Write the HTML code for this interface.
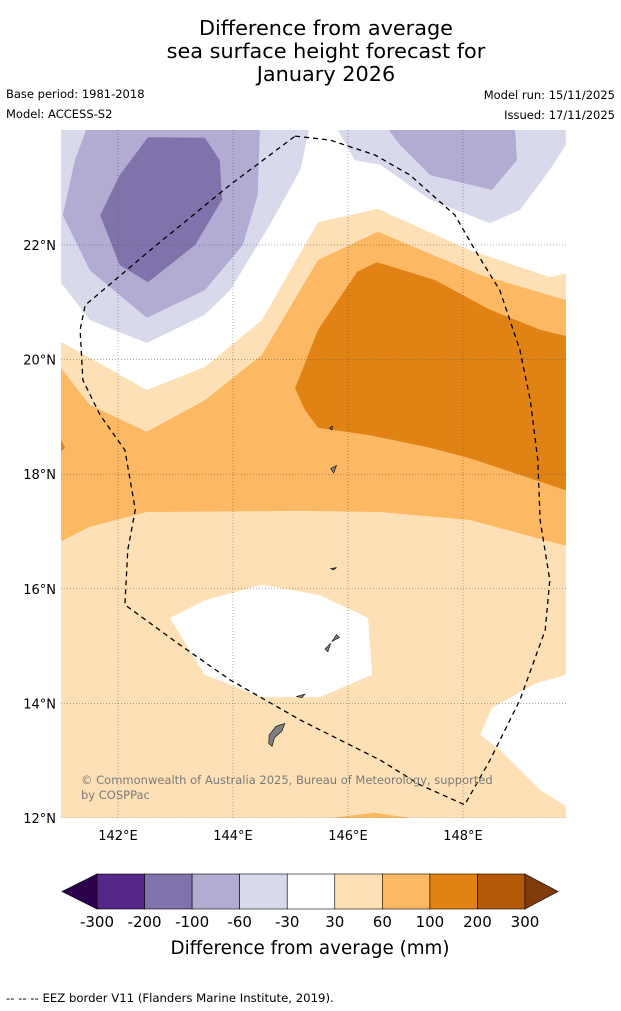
<!DOCTYPE html>
<html><head><meta charset="utf-8"><style>
body{margin:0;background:#fff;width:621px;height:1011px;overflow:hidden;font-family:"DejaVu Sans","Liberation Sans",sans-serif}
svg{display:block;font-family:"DejaVu Sans","Liberation Sans",sans-serif}
</style></head><body>
<svg id="chart" width="621" height="1011" viewBox="0 0 621 1011">
<g font-size="20.8" text-anchor="middle" fill="#000">
<text x="326" y="35">Difference from average</text>
<text x="326" y="58">sea surface height forecast for</text>
<text x="326" y="81">January 2026</text>
</g>
<text x="6" y="98" font-size="11.5">Base period: 1981-2018</text>
<text x="6" y="118" font-size="11.5">Model: ACCESS-S2</text>
<text x="615" y="99" font-size="11.5" text-anchor="end">Model run: 15/11/2025</text>
<text x="615" y="119" font-size="11.5" text-anchor="end">Issued: 17/11/2025</text>
<defs><clipPath id="mapclip"><rect x="61" y="130" width="505" height="688"/></clipPath></defs>
<g id="map" clip-path="url(#mapclip)"></g>
<g id="axes"></g>
<g id="cbar"></g>
<text x="310" y="954" font-size="18.3" text-anchor="middle">Difference from average (mm)</text>
<text x="6" y="1002" font-size="11.7">--  --  -- EEZ border V11 (Flanders Marine Institute, 2019).</text>
</svg>
<script>
const lonTicks=[142,144,146,148];
const latTicks=[12,14,16,18,20,22];
const cbarLevels=[-300,-200,-100,-60,-30,30,60,100,200,300];
const cbarColors=["#542788","#8073ac","#b2abd2","#d8daeb","#ffffff","#fee0b6","#fdb863","#e08214","#b35806"];
const lightOrange=[[141.01,20.31],[142.5,19.47],[143.51,19.87],[144.5,20.69],[145.48,22.40],[146.52,22.63],[148.12,21.91],[149.51,21.44],[149.79,21.51],[149.79,12],[141.01,12]];
const orange=[[141.01,19.85],[141.51,19.21],[142.5,18.74],[143.51,19.29],[144.5,20.08],[145.48,21.74],[146.52,22.23],[148.3,21.48],[149.79,21.04],[149.79,16.75],[148.12,17.20],[146.56,17.34],[145.17,17.36],[142.5,17.34],[141.51,17.08],[141.01,16.83]];
const orangeBottom=[[145.69,12],[146.47,12.09],[147.08,12]];
const darkOrange=[[145.08,19.50],[145.48,20.52],[146.16,21.53],[146.5,21.70],[147.51,21.39],[148.47,20.87],[149.34,20.52],[149.79,20.41],[149.79,17.72],[148.12,18.28],[147.43,18.46],[146.38,18.68],[145.48,18.81],[145.25,19.12]];
const whiteMid=[[142.9,15.49],[143.51,15.80],[144.5,16.07],[145.51,15.89],[146.35,15.49],[146.42,14.50],[145.51,14.11],[144.5,14.11],[143.51,14.50]];
const whiteSE=[[148.3,13.45],[148.5,13.92],[149.25,14.34],[149.79,14.50],[149.79,12.21],[149.34,12.49],[148.64,13.19]];
const lavLeft=[[141.01,24.1],[145.34,24.1],[145.17,23.31],[144.64,22.35],[143.95,21.21],[143.51,20.78],[142.5,20.29],[141.51,20.69],[141.01,21.34]];
const lavRight=[[145.77,24.1],[149.79,24.1],[149.79,23.75],[149.51,23.31],[148.99,22.61],[148.47,22.38],[147.43,22.79],[146.56,23.40],[146.12,23.48]];
const lilacLeft=[[141.48,24.1],[144.47,24.1],[144.43,22.87],[144.17,22.0],[143.51,21.21],[142.5,20.73],[141.51,21.56],[141.04,22.52],[141.25,23.48]];
const lilacRight=[[146.64,24.1],[148.9,24.1],[148.94,23.48],[148.5,22.96],[147.43,23.22],[146.9,23.75]];
const purple=[[142.52,23.88],[143.51,23.87],[143.77,23.48],[143.81,22.79],[143.34,22.0],[142.52,21.35],[142.03,21.65],[141.69,22.52],[142.03,23.22]];
const darkOrangeLeft=[[141.01,18.6],[141.08,18.46],[141.01,18.4]];
const eez=[[145.08,23.90],[145.69,23.83],[146.47,23.57],[147.08,23.22],[147.86,22.52],[148.21,21.91],[148.64,21.21],[148.99,20.17],[149.17,19.29],[149.3,18.25],[149.34,17.20],[149.51,16.15],[149.43,15.28],[148.99,14.06],[148.47,13.01],[148.03,12.23],[147.25,12.58],[146.56,13.01],[145.17,13.71],[143.95,14.41],[143.08,15.02],[142.12,15.72],[142.17,16.68],[142.3,17.38],[142.12,18.42],[141.69,19.03],[141.39,19.64],[141.34,20.52],[141.43,20.95],[142.56,21.91],[143.95,23.05],[145.08,23.90]];
const islands=[[[144.63,13.45],[144.75,13.6],[144.9,13.65],[144.85,13.52],[144.72,13.4],[144.68,13.25],[144.62,13.3]],[[145.1,14.12],[145.25,14.16],[145.2,14.1]],[[145.6,14.95],[145.7,15.05],[145.65,14.9]],[[145.72,15.08],[145.8,15.2],[145.85,15.15]],[[145.68,18.8],[145.73,18.84],[145.72,18.77]],[[145.7,18.1],[145.8,18.15],[145.75,18.02]],[[145.7,16.35],[145.8,16.37],[145.75,16.33]]];
const NS="http://www.w3.org/2000/svg";
const X=lon=>118+(lon-142)*57.5;
const Y=lat=>245-(lat-22)*57.3;
const map=document.getElementById('map');
function poly(parent,pts,fill,name,stroke){const p=document.createElementNS(NS,'polygon');
p.setAttribute('points',pts.map(q=>X(q[0]).toFixed(1)+','+Y(q[1]).toFixed(1)).join(' '));
p.setAttribute('fill',fill);p.setAttribute('stroke',stroke||'none');p.setAttribute('stroke-width','0.6');


parent.appendChild(p);return p;}
const bg=document.createElementNS(NS,'rect');bg.setAttribute('x',61);bg.setAttribute('y',130);bg.setAttribute('width',505);bg.setAttribute('height',688);bg.setAttribute('fill','#fff');


map.appendChild(bg);
poly(map,lavLeft,'#d8daeb','contour-lavender-west');
poly(map,lavRight,'#d8daeb','contour-lavender-east');
poly(map,lilacLeft,'#b2abd2','contour-lilac-west');
poly(map,lilacRight,'#b2abd2','contour-lilac-east');
poly(map,purple,'#8073ac','contour-purple');
poly(map,lightOrange,'#fee0b6','contour-light-orange');
poly(map,orange,'#fdb863','contour-orange');
poly(map,orangeBottom,'#fdb863','contour-orange-south');
poly(map,darkOrange,'#e08214','contour-dark-orange');
poly(map,darkOrangeLeft,'#e08214','contour-dark-orange-west');
poly(map,whiteMid,'#ffffff','contour-white-central');
poly(map,whiteSE,'#ffffff','contour-white-southeast');
const ax=document.getElementById('axes');
lonTicks.forEach(l=>{const g=document.createElementNS(NS,'line');g.setAttribute('x1',X(l));g.setAttribute('x2',X(l));g.setAttribute('y1',130);g.setAttribute('y2',818);g.setAttribute('stroke','#555');g.setAttribute('stroke-width','0.5');g.setAttribute('stroke-dasharray','1,2');


map.appendChild(g);
const t=document.createElementNS(NS,'text');t.setAttribute('x',X(l));t.setAttribute('y',840);t.setAttribute('font-size','13');t.setAttribute('text-anchor','middle');t.textContent=l+'°E';


ax.appendChild(t);});
latTicks.forEach(l=>{const g=document.createElementNS(NS,'line');g.setAttribute('x1',61);g.setAttribute('x2',566);g.setAttribute('y1',Y(l));g.setAttribute('y2',Y(l));g.setAttribute('stroke','#555');g.setAttribute('stroke-width','0.5');g.setAttribute('stroke-dasharray','1,2');


map.appendChild(g);
const t=document.createElementNS(NS,'text');t.setAttribute('x',56);t.setAttribute('y',Y(l)+5);t.setAttribute('font-size','13');t.setAttribute('text-anchor','end');t.textContent=l+'°N';


ax.appendChild(t);});
islands.forEach(s=>poly(map,s,'#808080','island','#000'));
const e=document.createElementNS(NS,'polyline');
e.setAttribute('points',eez.map(q=>X(q[0]).toFixed(1)+','+Y(q[1]).toFixed(1)).join(' '));
e.setAttribute('fill','none');e.setAttribute('stroke','#000');e.setAttribute('stroke-width','1.3');e.setAttribute('stroke-dasharray','5,4');


map.appendChild(e);
const cp=document.createElementNS(NS,'text');cp.setAttribute('x',81);cp.setAttribute('y',784);cp.setAttribute('font-size','11.5');cp.setAttribute('fill','#7a7a7a');
cp.innerHTML='<tspan x="81">© Commonwealth of Australia 2025, Bureau of Meteorology, supported</tspan><tspan x="81" dy="15">by COSPPac</tspan>';


map.appendChild(cp);
const cb=document.getElementById('cbar');
const cx0=97,cx1=525,cy0=874,cy1=909;
const cw=(cx1-cx0)/cbarColors.length;
cbarColors.forEach((c,i)=>{const r=document.createElementNS(NS,'rect');r.setAttribute('x',cx0+i*cw);r.setAttribute('y',cy0);r.setAttribute('width',cw);r.setAttribute('height',cy1-cy0);r.setAttribute('fill',c);r.setAttribute('stroke','#000');r.setAttribute('stroke-width','0.6');


cb.appendChild(r);});
[[cx0,'#2d004b',62],[cx1,'#7f3b08',558]].forEach(([bx,c,tx])=>{const p=document.createElementNS(NS,'polygon');p.setAttribute('points',`${bx},${cy0} ${tx},${(cy0+cy1)/2} ${bx},${cy1}`);p.setAttribute('fill',c);p.setAttribute('stroke','#000');p.setAttribute('stroke-width','0.6');


cb.appendChild(p);});
cbarLevels.forEach((v,i)=>{const t=document.createElementNS(NS,'text');t.setAttribute('x',cx0+i*cw);t.setAttribute('y',927);t.setAttribute('font-size','15');t.setAttribute('text-anchor','middle');t.textContent=v;


cb.appendChild(t);});
</script>
</body></html>
